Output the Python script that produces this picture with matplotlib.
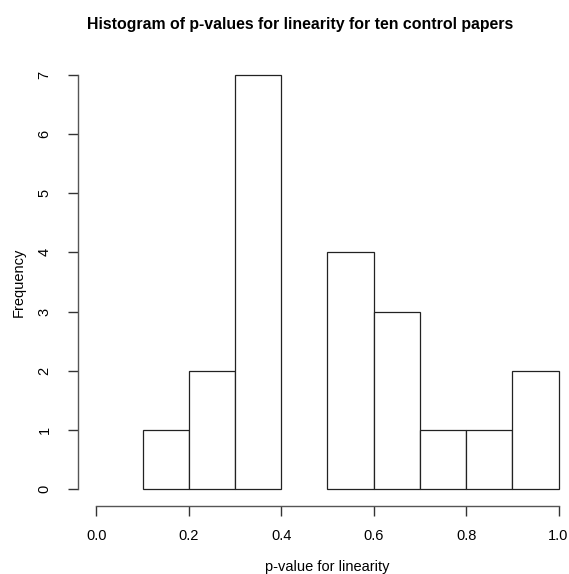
import matplotlib
matplotlib.use("Agg")
import matplotlib.pyplot as plt
import numpy as np

breaks = [0.0, 0.1, 0.2, 0.3, 0.4, 0.5, 0.6, 0.7, 0.8, 0.9, 1.0]
counts = [0, 1, 2, 7, 0, 4, 3, 1, 1, 2]
xticks = [0.0, 0.2, 0.4, 0.6, 0.8, 1.0]
xticklabels = ["0.0", "0.2", "0.4", "0.6", "0.8", "1.0"]
yticks = [0, 1, 2, 3, 4, 5, 6, 7]
title = "Histogram of p-values for linearity for ten control papers"
xlabel = "p-value for linearity"
ylabel = "Frequency"

plt.rcParams['font.family'] = ['Liberation Sans', 'DejaVu Sans']
W, H = 569, 574
fig = plt.figure(figsize=(W / 100, H / 100), dpi=100)
left, right, bottom, top = 78, 577, 505.5, 58.5
ax = fig.add_axes([left / W, 1 - bottom / H, (right - left) / W, (bottom - top) / H])

b = np.array(breaks)
c = np.array(counts)
widths = np.diff(b)
nz = c > 0
ax.bar(b[:-1][nz], c[nz], width=widths[nz], align='edge', facecolor='white',
       edgecolor='#222222', linewidth=0.9)

ax.set_xlim(-0.04, 1.04)
ax.set_ylim(-0.28, 7.28)
for s in ['top', 'right']:
    ax.spines[s].set_visible(False)
ax.spines['left'].set_bounds(0, 7)
ax.spines['bottom'].set_bounds(0, 1)
for s in ['left', 'bottom']:
    ax.spines[s].set_color('#555555')
    ax.spines[s].set_linewidth(1.0)

ax.set_xticks(xticks)
ax.set_xticklabels(xticklabels)
ax.set_yticks(yticks)
ax.set_yticklabels([str(v) for v in yticks], rotation=90, va='center')
ax.tick_params(axis='both', direction='out', length=7, width=1.0, color='#333333',
               labelsize=10.5, labelcolor='black')
ax.tick_params(axis='x', pad=10)
ax.tick_params(axis='y', pad=12)

fig.text(300 / W, 1 - 25 / H, title, ha='center', va='center',
         fontsize=11.4, fontweight='bold')
fig.text(327 / W, 1 - 567 / H, xlabel, ha='center', va='center', fontsize=10.5)
fig.text(19 / W, 1 - 282 / H, ylabel, ha='center', va='center', fontsize=10.5,
         rotation=90)

fig.savefig("out.png", dpi=100)
